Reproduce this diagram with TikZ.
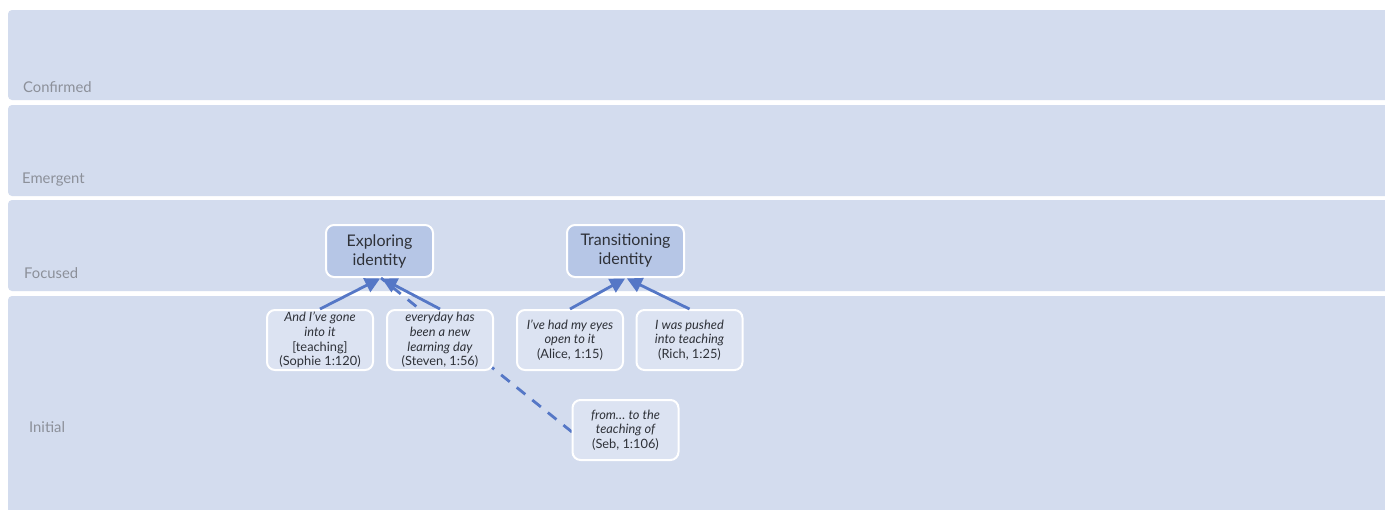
\documentclass[tikz,border=0pt]{standalone}
\usepackage{fontspec}
\setmainfont{Lato}
\usetikzlibrary{arrows.meta}
\definecolor{bandfill}{HTML}{D3DCEE}
\definecolor{catfill}{HTML}{B6C6E6}
\definecolor{quotefill}{HTML}{DCE3F2}
\definecolor{linkblue}{HTML}{5577C6}
\definecolor{labelgrey}{HTML}{8C9099}
\definecolor{bodytext}{HTML}{2E3138}
\tikzset{
  band/.style={fill=bandfill, draw=none, rounded corners=4pt},
  bandlabel/.style={anchor=west, text=labelgrey, font=\fontsize{14.8}{16}\selectfont, inner sep=0pt},
  category/.style={fill=catfill, draw=white, line width=2pt, rounded corners=8pt,
    minimum width=107pt, minimum height=52pt, align=center, text=bodytext,
    font=\fontsize{16}{19}\selectfont},
  quote/.style={fill=quotefill, draw=white, line width=2pt, rounded corners=8pt,
    minimum width=106pt, minimum height=60pt, align=center, text=bodytext,
    font=\fontsize{12.8}{14.6}\selectfont, inner sep=1pt},
  link/.style={draw=linkblue, line width=2.8pt, -{Triangle[length=15pt,width=15pt]}, shorten >=1pt},
  tentative/.style={draw=linkblue, line width=2.8pt, dash pattern=on 11pt off 9pt}
}
\begin{document}
\begin{tikzpicture}[x=1pt, y=-1pt]
\useasboundingbox (0,0) rectangle (1385,509);
\fill[white] (0,0) rectangle (1385,509);
\begin{scope}
\clip (0,0) rectangle (1385,509);
% horizontal bands
\path[band] (8,10) rectangle (1400,100);
\path[band] (8,105) rectangle (1400,196);
\path[band] (8,200) rectangle (1400,291);
\path[band] (8,296) rectangle (1400,530);
\end{scope}
\node[bandlabel] (lconf) at (23,87) {Confirmed};
\node[bandlabel] (lemer) at (22,180) {Emergent};
\node[bandlabel] (lfoc) at (24,273) {Focused};
\node[bandlabel] (linit) at (29,427) {Initial};

% focused themes
\node[category] (explore) at (379.5,251) {Exploring\\identity};
\node[category, minimum width=117pt] (transit) at (625.5,251) {Transitioning\\identity};

% anchor points on the theme boxes
\coordinate (exIn) at (381,278);
\coordinate (trIn) at (626,278);

% tentative link (behind the quote boxes)
\coordinate (sebOut) at (572,432);
\draw[tentative] (sebOut) -- (exIn);

% initial quotes
\node[quote] (sophie) at (320,340) {\itshape And I’ve gone\\\itshape into it\\{[teaching]}\\(Sophie 1:120)};
\node[quote] (steven) at (440,340) {\itshape everyday has\\\itshape been a new\\\itshape learning day\\(Steven, 1:56)};
\node[quote] (alice) at (570,340) {\itshape I’ve had my eyes\\\itshape open to it\\(Alice, 1:15)};
\node[quote] (rich) at (689.5,340) {\itshape I was pushed\\\itshape into teaching\\(Rich, 1:25)};
\node[quote] (seb) at (625.5,430) {\itshape from… to the\\\itshape teaching of\\(Seb, 1:106)};

% links up to the themes
\draw[link] (sophie.north) -- (exIn);
\draw[link] (steven.north) -- (exIn);
\draw[link] (alice.north) -- (trIn);
\draw[link] (rich.north) -- (trIn);
\end{tikzpicture}
\end{document}
